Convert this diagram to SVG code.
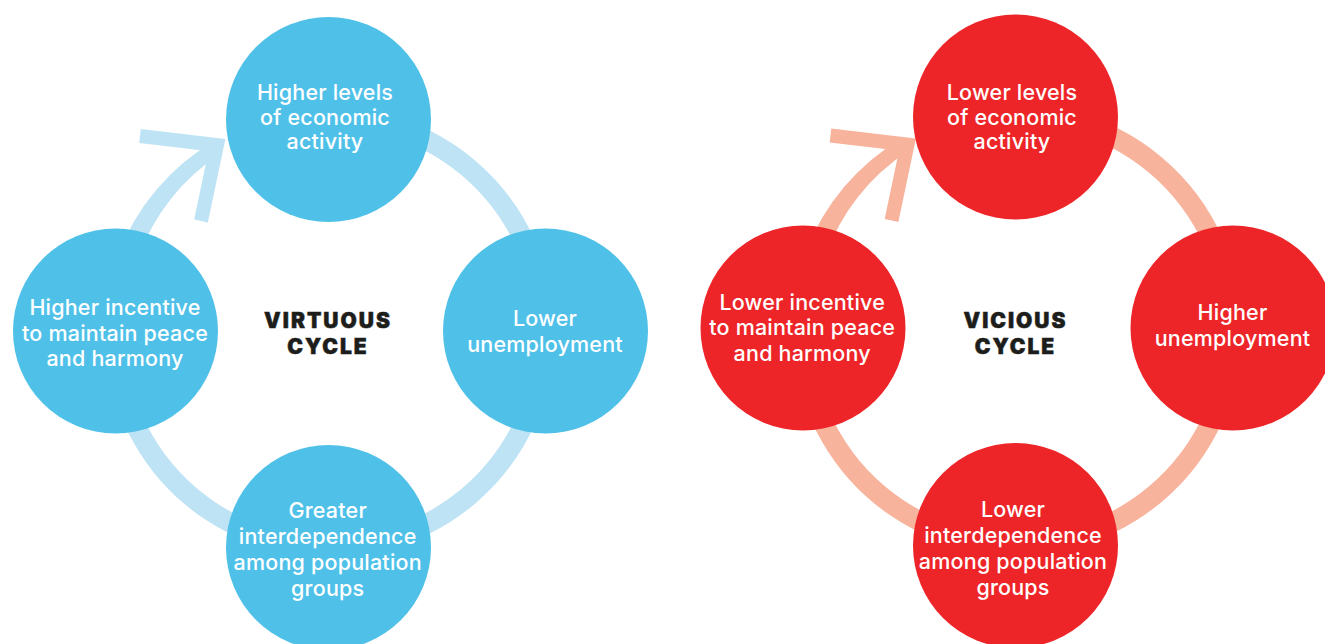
<svg xmlns="http://www.w3.org/2000/svg" width="1325" height="644" viewBox="0 0 1325 644">
<style>
.bg{fill:#ffffff}
.cb{fill:#4FC1E9}
.cr{fill:#EE2528}
.rb{fill:none;stroke:#BEE3F5;stroke-width:20}
.rr{fill:none;stroke:#F8B39C;stroke-width:20}
.tb{fill:#BEE3F5}
.tr{fill:#F8B39C}
.ab{fill:none;stroke:#BEE3F5;stroke-width:14;stroke-linejoin:miter;stroke-miterlimit:10}
.ar{fill:none;stroke:#F8B39C;stroke-width:14;stroke-linejoin:miter;stroke-miterlimit:10}
.t{font-family:Inter,"Liberation Sans",sans-serif;font-size:21.5px;font-weight:500;fill:#ffffff;text-anchor:middle;letter-spacing:0.2px}
.h{font-family:Inter,"Liberation Sans",sans-serif;font-size:21px;font-weight:900;fill:#1D1D1B;stroke:#1D1D1B;stroke-width:0.5;text-anchor:middle;letter-spacing:2px}
</style>
<rect class="bg" x="0" y="0" width="1325" height="644"/>
<g id="connectors">
  <path class="rb" d="M292.2 120.3 A215 215 0 1 1 127.5 258.5"/>
  <path class="tb" d="M118.1 255.05 A224 224 0 0 1 214.7 140.8 L221.9 152.8 A207 207 0 0 0 136.9 261.9 Z"/>
  <polyline class="ab" points="140,136 217,145 201,221"/>
  <path class="rr" d="M979.7 117.8 A215 215 0 1 1 815 256"/>
  <path class="tr" d="M805.6 252.55 A224 224 0 0 1 902.2 138.3 L909.4 150.3 A207 207 0 0 0 824.4 259.4 Z"/>
  <polyline class="ar" points="830.5,135.5 907.5,144.5 891.5,220.5"/>
</g>
<g id="v-top">
  <circle class="cb" cx="328.5" cy="119.5" r="102.5"/>
  <text class="t" x="325" y="100">Higher levels</text>
  <text class="t" x="325" y="124.5">of economic</text>
  <text class="t" x="325" y="149">activity</text>
</g>
<g id="v-right">
  <circle class="cb" cx="545.5" cy="331" r="102.5"/>
  <text class="t" x="545" y="326">Lower</text>
  <text class="t" x="545" y="351.5">unemployment</text>
</g>
<g id="v-bottom">
  <circle class="cb" cx="328.5" cy="547.5" r="102.5"/>
  <text class="t" x="327.7" y="518">Greater</text>
  <text class="t" x="327.7" y="543.5">interdependence</text>
  <text class="t" x="327.7" y="569.5">among population</text>
  <text class="t" x="327.7" y="595.5">groups</text>
</g>
<g id="v-left">
  <circle class="cb" cx="115.5" cy="331" r="102.5"/>
  <text class="t" x="115" y="315">Higher incentive</text>
  <text class="t" x="115" y="340.5">to maintain peace</text>
  <text class="t" x="115" y="366">and harmony</text>
</g>
<g id="v-title">
  <text class="h" x="328" y="328">VIRTUOUS</text>
  <text class="h" x="328" y="354">CYCLE</text>
</g>
<g id="r-top">
  <circle class="cr" cx="1015.5" cy="117" r="102.5"/>
  <text class="t" x="1012" y="100">Lower levels</text>
  <text class="t" x="1012" y="124.5">of economic</text>
  <text class="t" x="1012" y="149">activity</text>
</g>
<g id="r-right">
  <circle class="cr" cx="1233" cy="328" r="102.5"/>
  <text class="t" x="1232.5" y="320.3">Higher</text>
  <text class="t" x="1232.5" y="345.7">unemployment</text>
</g>
<g id="r-bottom">
  <circle class="cr" cx="1015.5" cy="545.5" r="102.5"/>
  <text class="t" x="1013" y="517">Lower</text>
  <text class="t" x="1013" y="543">interdependence</text>
  <text class="t" x="1013" y="569">among population</text>
  <text class="t" x="1013" y="594.5">groups</text>
</g>
<g id="r-left">
  <circle class="cr" cx="803" cy="328" r="102.5"/>
  <text class="t" x="802.2" y="310">Lower incentive</text>
  <text class="t" x="802.2" y="335.3">to maintain peace</text>
  <text class="t" x="802.2" y="360.7">and harmony</text>
</g>
<g id="r-title">
  <text class="h" x="1015.5" y="328">VICIOUS</text>
  <text class="h" x="1015.5" y="354">CYCLE</text>
</g>
</svg>
